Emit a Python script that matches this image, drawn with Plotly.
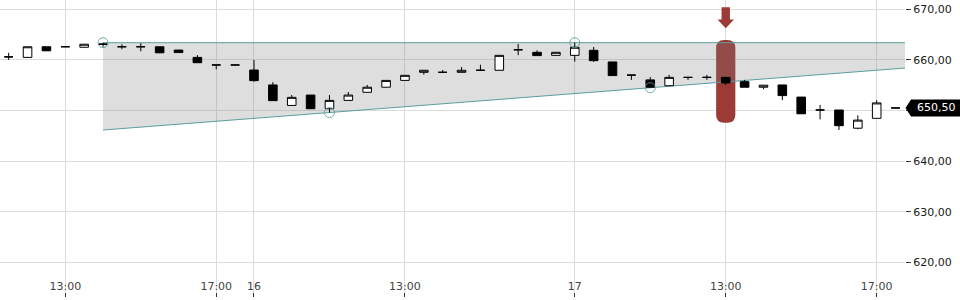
import numpy as np
import plotly.graph_objects as go

# ---- data -------------------------------------------------------------
# 30-minute candles, index 0..47 (day 15 from 11:30, day 16, day 17)
candle_idx = list(range(48))
opens = [660.6, 660.5, 662.6, 662.6, 662.5, 663.15, 662.6, 662.6, 662.6, 661.95,
         660.5, 659.0, 659.0, 658.0, 655.05, 651.0, 653.05, 650.35, 652.0, 653.6,
         654.6, 655.95, 657.55, 657.55, 657.55, 657.95, 657.95, 662.0, 661.5, 660.9,
         660.9, 661.9, 659.6, 657.0, 656.05, 654.9, 656.55, 656.55, 656.55, 655.7,
         654.6, 655.05, 652.65, 650.1, 650.1, 646.5, 648.45, 650.5]
highs = [661.4, 662.6, 662.6, 662.6, 663.1, 663.4, 663.1, 663.3, 662.6, 661.95,
         660.95, 659.0, 659.0, 660.0, 655.6, 653.05, 653.05, 653.05, 653.65, 655.05,
         655.95, 656.95, 657.95, 658.0, 658.6, 659.05, 660.9, 663.15, 661.9, 661.5,
         663.4, 662.55, 659.6, 657.0, 656.6, 657.05, 656.55, 657.05, 656.55, 656.05,
         655.0, 655.05, 652.65, 651.1, 650.1, 649.05, 652.05, 650.5]
lows = [660.0, 660.5, 661.8, 662.6, 662.5, 662.6, 662.1, 661.7, 661.4, 661.45,
        659.45, 658.15, 659.0, 655.7, 651.95, 651.0, 650.35, 649.6, 652.0, 653.6,
        654.6, 655.95, 657.1, 657.55, 657.55, 657.95, 657.95, 660.95, 660.85, 660.9,
        659.65, 659.6, 656.9, 656.05, 654.5, 654.9, 656.05, 656.05, 655.05, 654.6,
        654.2, 652.05, 649.35, 648.25, 646.15, 646.3, 648.45, 650.5]
closes = [660.6, 662.6, 661.8, 662.6, 663.1, 663.1, 662.6, 662.6, 661.4, 661.45,
          659.45, 659.0, 659.0, 655.9, 651.95, 652.6, 650.35, 652.0, 653.05, 654.6,
          655.95, 656.95, 657.95, 657.55, 657.95, 657.95, 660.9, 662.0, 660.85, 661.5,
          662.5, 659.85, 656.9, 657.0, 654.6, 656.55, 656.55, 656.55, 655.45, 654.6,
          655.0, 652.95, 649.35, 650.1, 647.0, 648.1, 651.5, 650.5]

tick_idx = [3, 11, 13, 21, 30, 38, 46]
tick_text = ["13:00", "17:00", "16", "13:00", "17", "13:00", "17:00"]

y_ticks = [620, 630, 640, 650, 660, 670]

# channel pivots: upper through highs at 5 and 30, lower through lows at 17 and 34
pivot_x = [5, 17, 30, 34]
pivot_y = [663.4, 649.6, 663.4, 654.5]

# signal marker
signal_x = 38
signal_low = 647.6
signal_high = 663.93

last_price = 650.5
last_label = "650,50"

# ---- layout constants ---------------------------------------------------
x_min, x_max = -0.46, 47.5
y_min, y_max = 613.14, 671.84
plot_h_px = 297
teal = "#5a9e9e"
red = "#9c3b36"
grid = "#dcdcdc"
font = "DejaVu Sans"

def line_through(x0, y0, x1, y1, xs):
    xs = np.asarray(xs, dtype=float)
    return y0 + (y1 - y0) * (xs - x0) / (x1 - x0)

ch_x = [pivot_x[0], x_max]
upper = line_through(pivot_x[0], pivot_y[0], pivot_x[2], pivot_y[2], ch_x)
lower = line_through(pivot_x[1], pivot_y[1], pivot_x[3], pivot_y[3], ch_x)

fig = go.Figure()

# channel fill
fig.add_trace(go.Scatter(
    x=[ch_x[0], ch_x[1], ch_x[1], ch_x[0]],
    y=[upper[0], upper[1], lower[1], lower[0]],
    fill="toself", fillcolor="rgba(128,128,128,0.26)",
    mode="lines", line=dict(width=0), hoverinfo="skip", zorder=1))

# channel lines
for yy in (upper, lower):
    fig.add_trace(go.Scatter(x=ch_x, y=yy, mode="lines",
                             line=dict(color=teal, width=1), hoverinfo="skip", zorder=2))

# candles
fig.add_trace(go.Candlestick(
    x=candle_idx, open=opens, high=highs, low=lows, close=closes,
    increasing=dict(line=dict(color="black", width=1), fillcolor="white"),
    decreasing=dict(line=dict(color="black", width=1), fillcolor="black"),
    whiskerwidth=0, hoverinfo="skip", zorder=3))

# pivot circles
fig.add_trace(go.Scatter(
    x=pivot_x, y=pivot_y, mode="markers",
    marker=dict(symbol="circle-open", size=10, color="rgba(90,158,158,0.85)",
                line=dict(width=1)),
    hoverinfo="skip", zorder=4))

# rounded signal bar: x in pixels around signal_x, y in data units
px_per_unit = plot_h_px / (y_max - y_min)
w, r = 9.6, 8.0
ry = r / px_per_unit
lo, hi = signal_low, signal_high
pill = (f"M {-w},{lo + ry} L {-w},{hi - ry} Q {-w},{hi} {-w + r},{hi} "
        f"L {w - r},{hi} Q {w},{hi} {w},{hi - ry} L {w},{lo + ry} "
        f"Q {w},{lo} {w - r},{lo} L {-w + r},{lo} Q {-w},{lo} {-w},{lo + ry} Z")

shapes = [
    dict(type="path", xref="x", xsizemode="pixel", xanchor=signal_x,
         yref="y", path=pill, fillcolor=red, line=dict(width=0), layer="between"),
    # down arrow above the signal bar
    dict(type="path", xref="x", xsizemode="pixel", xanchor=signal_x,
         yref="y", ysizemode="pixel", yanchor=signal_high,
         path="M -4.2,32.7 L 4.2,32.7 L 4.2,20.5 L 8.2,20.5 L 0,11.7 L -8.2,20.5 L -4.2,20.5 Z",
         fillcolor=red, line=dict(width=0), layer="above"),
    # last price tag
    dict(type="path", xref="paper", xsizemode="pixel", xanchor=1,
         yref="y", ysizemode="pixel", yanchor=last_price,
         path="M 0.5,0 L 6,8.5 L 60,8.5 L 60,-8.5 L 6,-8.5 Z",
         fillcolor="black", line=dict(width=0), layer="above"),
]

# the tick label hidden behind the last-price tag is left blank
y_ticktext = ["" if abs(v - last_price) < 3 else f"{v:.2f}".replace(".", ",") for v in y_ticks]

fig.update_layout(
    width=960, height=300,
    margin=dict(l=0, r=55, t=0, b=3),
    paper_bgcolor="white", plot_bgcolor="white",
    showlegend=False, separators=",.",
    boxgap=0.35,
    font=dict(family=font, size=11, color="#1a1a1a"),
    shapes=shapes,
    annotations=[dict(x=1, xref="paper", y=last_price, yref="y",
                      text=last_label, showarrow=False, xanchor="left",
                      xshift=10, font=dict(color="white", size=11, family=font))],
    xaxis=dict(range=[x_min, x_max], tickvals=tick_idx, ticktext=tick_text,
               showgrid=True, gridcolor=grid, gridwidth=1, zeroline=False,
               showline=False, ticks="inside", ticklen=4, tickcolor="#333",
               ticklabelposition="inside", rangeslider=dict(visible=False),
               fixedrange=True),
    yaxis=dict(range=[y_min, y_max], side="right", tickvals=y_ticks,
               ticktext=y_ticktext, showgrid=True, gridcolor=grid, gridwidth=1,
               zeroline=False, showline=False, ticks="outside", ticklen=5,
               tickcolor="#333", fixedrange=True),
)

fig.write_html("out.html", config={"displayModeBar": False})
